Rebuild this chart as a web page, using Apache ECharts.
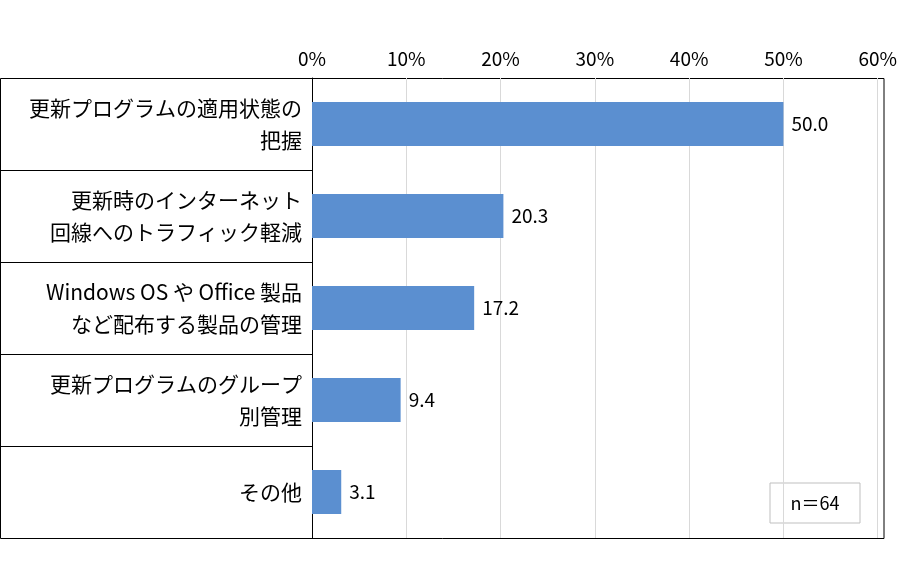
<!DOCTYPE html>
<html><head><meta charset="utf-8">
<script src="https://cdn.jsdelivr.net/npm/echarts@6/dist/echarts.min.js"></script>
<style>html,body{margin:0;background:#fff}#c{width:900px;height:562px}</style>
</head><body><div id="c"></div>
<script>
var categories = ['更新プログラムの適用状態の\n把握', '更新時のインターネット\n回線へのトラフィック軽減', 'Windows OS や Office 製品\nなど配布する製品の管理', '更新プログラムのグループ\n別管理', 'その他'];
var values = [50.0, 20.3, 17.2, 9.4, 3.1];
var note = 'n＝64';

var font = '"Noto Sans CJK JP", sans-serif';
var top0 = 78, bottom0 = 538, left0 = 312, right0 = 884;
var rowH = (bottom0 - top0) / categories.length;
var frame = [
  { type: 'rect', shape: { x: 0.5, y: top0 + 0.5, width: right0 - 0.5, height: bottom0 - top0 }, style: { fill: 'none', stroke: '#000', lineWidth: 1 } },
  { type: 'rect', shape: { x: 770, y: 483, width: 90, height: 40 }, style: { fill: '#fff', stroke: '#bfbfbf', lineWidth: 1 } },
  { type: 'text', x: 815, y: 503, style: { text: note, fontSize: 18, fontFamily: font, fill: '#000', align: 'center', verticalAlign: 'middle' } }
];
for (var i = 1; i < categories.length; i++) {
  var y = Math.round(top0 + rowH * i) + 0.5;
  frame.push({ type: 'line', shape: { x1: 0, y1: y, x2: left0, y2: y }, style: { stroke: '#000', lineWidth: 1 } });
}

var chart = echarts.init(document.getElementById('c'));
chart.setOption({
  animation: false,
  grid: { left: left0, right: 900 - right0, top: top0, bottom: 562 - bottom0 },
  xAxis: {
    type: 'value', position: 'top', min: 0, max: 60, interval: 10,
    axisLabel: { formatter: '{value}%', fontSize: 19, color: '#000', fontFamily: font, margin: 10 },
    axisLine: { show: false }, axisTick: { show: false },
    splitLine: { lineStyle: { color: '#d9d9d9' } }
  },
  yAxis: {
    type: 'category', inverse: true, data: categories,
    axisLine: { lineStyle: { color: '#000' } },
    axisTick: { show: false },
    axisLabel: { fontSize: 21, color: '#000', fontFamily: font, lineHeight: 32, margin: 10, align: 'right' }
  },
  series: [{
    type: 'bar', data: values, barWidth: 44,
    itemStyle: { color: '#5b8fd0' },
    label: { show: true, position: 'right', fontSize: 19, color: '#000', fontFamily: font, distance: 8,
      formatter: function (p) { return p.value.toFixed(1); } }
  }],
  graphic: frame
});
</script></body></html>
